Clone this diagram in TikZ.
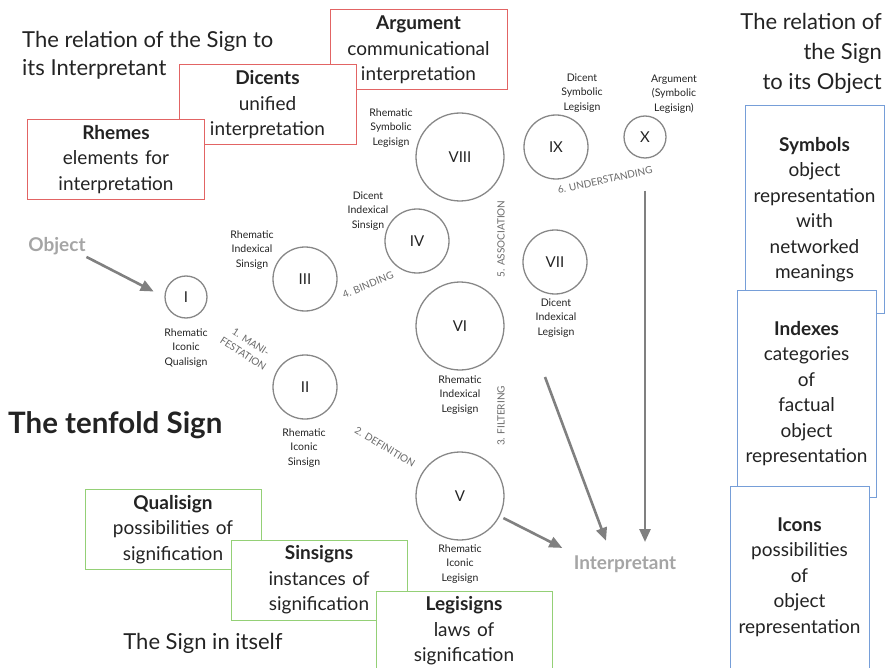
\documentclass[tikz,border=0pt]{standalone}
\usepackage{fontspec}
\setmainfont{Lato}
\usetikzlibrary{arrows.meta}
\definecolor{redbox}{RGB}{226,100,100}
\definecolor{greenbox}{RGB}{148,208,118}
\definecolor{bluebox}{RGB}{118,158,216}
\definecolor{circlegray}{RGB}{135,135,135}
\definecolor{arrowgray}{RGB}{128,128,128}
\definecolor{labelgray}{RGB}{165,165,165}
\definecolor{stepgray}{RGB}{105,105,105}
\definecolor{ink}{RGB}{35,35,35}

\begin{document}
\begin{tikzpicture}[x=1pt,y=-1pt,text=ink]
\tikzstyle{heading}=[inner sep=0pt,font=\fontsize{22}{28}\selectfont]
\tikzstyle{classbox}=[draw,line width=1pt,fill=white,inner sep=0pt,align=center,font=\fontsize{19}{25.5}\selectfont]
\tikzstyle{interpretantbox}=[classbox,draw=redbox,minimum width=177pt,minimum height=80pt,text width=170pt]
\tikzstyle{itselfbox}=[classbox,draw=greenbox,minimum width=176pt,minimum height=80pt,text width=170pt]
\tikzstyle{objectbox}=[classbox,draw=bluebox,minimum width=139pt,text width=134pt]
\tikzstyle{signcircle}=[draw=circlegray,line width=1.3pt,circle,inner sep=0pt,font=\fontsize{15}{18}\selectfont]
\tikzstyle{signclass}=[align=center,inner sep=0pt,font=\fontsize{10.5}{14.5}\selectfont]
\tikzstyle{stepname}=[text=stepgray,align=center,inner sep=0pt,font=\fontsize{10}{14}\selectfont]
\tikzstyle{flow}=[draw=arrowgray,line width=2.6pt,-{Triangle[length=13pt,width=11pt]}]
\tikzstyle{pole}=[text=labelgray,font=\fontsize{19}{22}\selectfont\bfseries]

\useasboundingbox (0,0) rectangle (885,668);

\node [heading,anchor=west,align=left] (interpretanttitle) at (22,55) {The relation of the Sign to\\its Interpretant};
\node [heading,anchor=east,align=right,font=\fontsize{22}{30}\selectfont] (objecttitle) at (882,53) {The relation of\\the Sign\\to its Object};
\node [heading,anchor=west,font=\fontsize{29.5}{32}\selectfont\bfseries] (tenfold) at (8,425) {The tenfold Sign};
\node [heading] (itselftitle) at (203,643) {The Sign in itself};

\node [interpretantbox] (argument) at (418.5,50) {\textbf{Argument}\\communicational\\interpretation};
\node [interpretantbox] (dicents) at (267.5,105) {\textbf{Dicents}\\unified\\interpretation};
\node [interpretantbox] (rhemes) at (116,159.5) {\textbf{Rhemes}\\elements for\\interpretation};

\node [objectbox,minimum height=207pt] (symbols) at (814.5,209.5) {\textbf{Symbols}\\object\\representation\\with\\networked\\meanings};
\node [objectbox,minimum height=207pt] (indexes) at (806.5,393.5) {\textbf{Indexes}\\categories\\of\\factual\\object\\representation};
\node [objectbox,minimum height=194pt] (icons) at (799.5,583) {\textbf{Icons}\\possibilities\\of\\object\\representation\\[-10.5pt]\mbox{}};

\node [itselfbox] (qualisign) at (173,529.5) {\textbf{Qualisign}\\possibilities of\\signification};
\node [itselfbox] (sinsigns) at (319,580) {\textbf{Sinsigns}\\instances of\\signification};
\node [itselfbox] (legisigns) at (464,631) {\textbf{Legisigns}\\laws of\\signification};

\node [signcircle,minimum size=42pt] (I) at (186,297) {I};
\node [signcircle,minimum size=64pt] (II) at (305,387) {II};
\node [signcircle,minimum size=64pt] (III) at (305,279) {III};
\node [signcircle,minimum size=64pt] (IV) at (417,241) {IV};
\node [signcircle,minimum size=88pt] (V) at (460,496) {V};
\node [signcircle,minimum size=88pt] (VI) at (460,326) {VI};
\node [signcircle,minimum size=64pt] (VII) at (555,262) {VII};
\node [signcircle,minimum size=88pt] (VIII) at (460,157) {VIII};
\node [signcircle,minimum size=64pt] (IX) at (556,147) {IX};
\node [signcircle,minimum size=42pt] (X) at (645,137) {X};

\node [signclass] (Iname) at (186,348) {Rhematic\\Iconic\\Qualisign};
\node [signclass] (IIname) at (304,448) {Rhematic\\Iconic\\Sinsign};
\node [signclass] (IIIname) at (252,250) {Rhematic\\Indexical\\Sinsign};
\node [signclass] (IVname) at (368,211) {Dicent\\Indexical\\Sinsign};
\node [signclass] (Vname) at (460,564) {Rhematic\\Iconic\\Legisign};
\node [signclass] (VIname) at (460,395) {Rhematic\\Indexical\\Legisign};
\node [signclass] (VIIname) at (556,318) {Dicent\\Indexical\\Legisign};
\node [signclass] (VIIIname) at (391,128) {Rhematic\\Symbolic\\Legisign};
\node [signclass] (IXname) at (582,93) {Dicent\\Symbolic\\Legisign};
\node [signclass] (Xname) at (674,94) {Argument\\(Symbolic\\Legisign)};

\node [stepname,rotate=-33] (manifestation) at (247,348) {1. MANI-\\FESTATION};
\node [stepname,rotate=-31] (definition) at (385,447) {2. DEFINITION};
\node [stepname,rotate=90] (filtering) at (501,416) {3. FILTERING};
\node [stepname,rotate=22] (binding) at (368,285) {4. BINDING};
\node [stepname,rotate=90] (association) at (501,239) {5. ASSOCIATION};
\node [stepname,rotate=12] (understanding) at (605,180) {6. UNDERSTANDING};

\node [pole] (object) at (57,246) {Object};
\node [pole] (interpretant) at (625,564) {Interpretant};
\coordinate (filtertail) at (545,377);

\path
 (object.south east) edge [flow,shorten <=-3pt,shorten >=12pt] (I.west)
 (V) edge [flow,shorten <=4pt,shorten >=9pt] (interpretant.north west)
 (filtertail) edge [flow,shorten >=12pt] (interpretant.141)
 (X) edge [flow,shorten <=32pt,shorten >=10pt] (X |- interpretant.north);
\end{tikzpicture}
\end{document}
